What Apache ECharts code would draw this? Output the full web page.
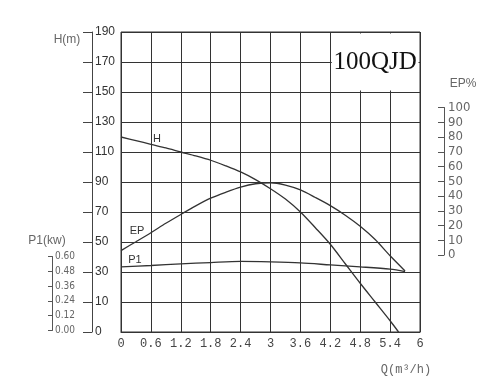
<!DOCTYPE html>
<html><head><meta charset="utf-8">
<script src="https://cdn.jsdelivr.net/npm/echarts@6/dist/echarts.min.js"></script>
<style>html,body{margin:0;padding:0;background:#fff}#c{width:500px;height:392px}</style>
</head><body><div id="c"></div>
<script>
// Flow axis (Q, m3/h): 0 .. 6 step 0.6
const qMin = 0, qMax = 6, qStep = 0.6;
// Head axis tick values (bottom line is labelled "0")
const hTicks = [-10, 10, 30, 50, 70, 90, 110, 130, 150, 170, 190];
const hLabelBottom = '0';
const epTicks = [0, 10, 20, 30, 40, 50, 60, 70, 80, 90, 100];
const p1Ticks = [0, 0.12, 0.24, 0.36, 0.48, 0.60];

// H curve (m)
const qH = [0, 0.3, 0.6, 0.9, 1.2, 1.5, 1.8, 2.1, 2.4, 2.7, 3.0, 3.3, 3.6, 3.9, 4.2, 4.5, 4.8, 5.1, 5.4, 5.57];
const hVals = [120, 117.6, 115.1, 112.7, 110, 107.4, 104.5, 100.8, 96.7, 91.6, 85.5, 78.6, 70, 59.5, 48.5, 35.5, 22.5, 10, -2.5, -10];
// EP curve (%)
const qEP = [0, 0.3, 0.6, 0.9, 1.2, 1.5, 1.8, 2.1, 2.4, 2.7, 3.0, 3.3, 3.6, 3.9, 4.2, 4.5, 4.8, 5.1, 5.4, 5.7];
const epVals = [3, 9, 15.1, 21.5, 27.5, 33.3, 38.5, 42.5, 46, 48.3, 49, 47.4, 44.1, 39, 33.5, 27, 19.5, 10.5, -0.5, -10.8];
// P1 curve (kw)
const qP1 = [0, 0.6, 1.2, 1.8, 2.4, 3, 3.6, 4.2, 4.8, 5.4, 5.7];
const p1Vals = [0.516, 0.527, 0.540, 0.551, 0.560, 0.556, 0.548, 0.532, 0.516, 0.497, 0.478];

const modelName = '100QJD';

const zip = (a, b) => a.map((x, i) => [x, b[i]]);
const lineCol = '#333';
const hiddenX = i => ({ type: 'value', gridIndex: i, min: qMin, max: qMax, show: false });
const narrow = '"DejaVu Sans Condensed", "Liberation Sans Narrow", "Liberation Sans", sans-serif';

const chart = echarts.init(document.getElementById('c'), null, { renderer: 'canvas' });
chart.setOption({
  animation: false,
  backgroundColor: '#fff',
  grid: [
    { left: 121, top: 32, width: 299, height: 300, show: true, borderColor: '#333', borderWidth: 1 },
    { left: 121, top: 107.5, width: 299, height: 147.5 },
    { left: 121, top: 256.5, width: 299, height: 74 }
  ],
  xAxis: [
    {
      type: 'value', gridIndex: 0, min: qMin, max: qMax, interval: qStep,
      axisLine: { show: true, onZero: false, lineStyle: { color: '#333' } },
      axisTick: { show: false },
      splitLine: { show: true, lineStyle: { color: '#333', width: 1 } },
      axisLabel: { color: '#444', fontFamily: 'Liberation Mono', fontSize: 12, margin: 6,
        formatter: v => String(Math.round(v * 10) / 10) }
    },
    hiddenX(1), hiddenX(2)
  ],
  yAxis: [
    {
      type: 'value', gridIndex: 0, position: 'left', offset: 29, min: hTicks[0], max: hTicks[hTicks.length - 1],
      axisLine: { show: true, onZero: false, lineStyle: { color: '#444' } },
      axisTick: { show: true, inside: false, length: 9, customValues: hTicks, lineStyle: { color: '#444' } },
      axisLabel: { inside: true, margin: 3, customValues: hTicks, color: '#333',
        fontFamily: 'Liberation Sans', fontSize: 12, formatter: v => v === hTicks[0] ? hLabelBottom : String(v) },
      splitLine: { show: false }
    },
    {
      type: 'value', gridIndex: 1, position: 'right', offset: 24, min: epTicks[0], max: epTicks[epTicks.length - 1],
      axisLine: { show: true, onZero: false, lineStyle: { color: '#555' } },
      axisTick: { show: true, inside: true, length: 6, customValues: epTicks, lineStyle: { color: '#555' } },
      axisLabel: { margin: 4, customValues: epTicks, color: '#666', fontFamily: narrow, fontSize: 13 },
      splitLine: { show: false }
    },
    {
      type: 'value', gridIndex: 2, position: 'left', offset: 69, min: p1Ticks[0], max: p1Ticks[p1Ticks.length - 1],
      axisLine: { show: true, onZero: false, lineStyle: { color: '#555' } },
      axisTick: { show: true, inside: false, length: 4, customValues: p1Ticks, lineStyle: { color: '#555' } },
      axisLabel: { inside: true, margin: 3, customValues: p1Ticks, color: '#666', fontFamily: narrow,
        fontSize: 10, formatter: v => v.toFixed(2) },
      splitLine: { show: false }
    },
    {
      // grid lines of the main plot: one every 20 m, starting at the bottom line
      type: 'value', gridIndex: 0, position: 'left', min: 0, max: 200, interval: 20,
      axisLine: { show: false }, axisTick: { show: false }, axisLabel: { show: false },
      splitLine: { show: true, lineStyle: { color: '#333', width: 1 } }
    }
  ],
  series: [
    {
      type: 'line', name: 'H', xAxisIndex: 0, yAxisIndex: 0, data: zip(qH, hVals),
      smooth: 0.3, showSymbol: false, clip: false, lineStyle: { color: lineCol, width: 1.3 },
      markArea: {
        silent: true,
        itemStyle: { color: '#fff', opacity: 1 },
        label: { show: true, position: 'inside', color: '#111', fontFamily: 'Liberation Serif', fontSize: 25 },
        data: [[{ name: modelName, coord: [4.23, 151] }, { coord: [5.97, 189] }]]
      }
    },
    {
      type: 'line', name: 'EP', xAxisIndex: 1, yAxisIndex: 1, data: zip(qEP, epVals),
      smooth: 0.3, showSymbol: false, clip: false, lineStyle: { color: lineCol, width: 1.3 }
    },
    {
      type: 'line', name: 'P1', xAxisIndex: 2, yAxisIndex: 2, data: zip(qP1, p1Vals),
      smooth: 0.3, showSymbol: false, clip: false, lineStyle: { color: lineCol, width: 1.3 }
    }
  ],
  graphic: [
    { type: 'text', x: 67, y: 40, style: { text: 'H(m)', fill: '#666', font: '12px "Liberation Sans"', align: 'center', verticalAlign: 'middle' } },
    { type: 'text', x: 47, y: 241, style: { text: 'P1(kw)', fill: '#666', font: '12px "Liberation Sans"', align: 'center', verticalAlign: 'middle' } },
    { type: 'text', x: 463, y: 84, style: { text: 'EP%', fill: '#666', font: '12px "Liberation Sans"', align: 'center', verticalAlign: 'middle' } },
    { type: 'text', x: 406, y: 370, style: { text: 'Q(m³/h)', fill: '#666', font: '12px "Liberation Mono"', align: 'center', verticalAlign: 'middle' } },
    { type: 'text', x: 157, y: 139, style: { text: 'H', fill: '#333', font: '11px "Liberation Sans"', align: 'center', verticalAlign: 'middle' } },
    { type: 'text', x: 137, y: 231, style: { text: 'EP', fill: '#333', font: '11px "Liberation Sans"', align: 'center', verticalAlign: 'middle' } },
    { type: 'text', x: 135, y: 260, style: { text: 'P1', fill: '#333', font: '11px "Liberation Sans"', align: 'center', verticalAlign: 'middle' } }
  ]
});
</script></body></html>
